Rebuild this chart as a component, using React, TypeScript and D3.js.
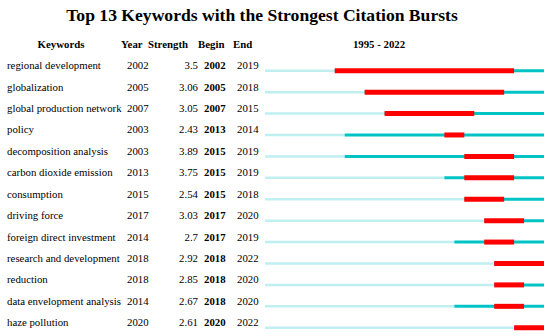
import { scaleBand, scaleLinear, range } from "d3";

const keywords = [
  "regional development",
  "globalization",
  "global production network",
  "policy",
  "decomposition analysis",
  "carbon dioxide emission",
  "consumption",
  "driving force",
  "foreign direct investment",
  "research and development",
  "reduction",
  "data envelopment analysis",
  "haze pollution",
];
const years = [2002, 2005, 2007, 2003, 2003, 2013, 2015, 2017, 2014, 2018, 2018, 2014, 2020];
const strengths = ["3.5", "3.06", "3.05", "2.43", "3.89", "3.75", "2.54", "3.03", "2.7", "2.92", "2.85", "2.67", "2.61"];
const begins = [2002, 2005, 2007, 2013, 2015, 2015, 2015, 2017, 2017, 2018, 2018, 2018, 2020];
const ends = [2019, 2018, 2015, 2014, 2019, 2019, 2018, 2020, 2019, 2022, 2020, 2020, 2022];

const startYear = 1995;
const endYear = 2022;

const W = 550;
const H = 336;
const font = "'Liberation Serif', 'Times New Roman', serif";
const fs = 10.8;

const App = () => {
  const x = scaleLinear().domain([startYear, endYear + 1]).range([265, 544]);
  const y = scaleBand<number>()
    .domain(range(keywords.length))
    .range([60, 60 + 21.42 * keywords.length]);

  return (
    <svg
      width={W}
      height={H}
      style={{ position: "absolute", left: 0, top: 0, background: "#fff" }}
      fontFamily={font}
    >
      <text x={262} y={21} textAnchor="middle" fontSize={17.6} fontWeight="bold">
        Top 13 Keywords with the Strongest Citation Bursts
      </text>
      <g fontSize={fs} fontWeight="bold">
        <text x={61} y={48} textAnchor="middle">Keywords</text>
        <text x={121} y={48}>Year</text>
        <text x={148} y={48}>Strength</text>
        <text x={198} y={48}>Begin</text>
        <text x={233} y={48}>End</text>
        <text x={379} y={48} textAnchor="middle">1995 - 2022</text>
      </g>
      {keywords.map((k, i) => {
        const cy = (y(i) ?? 0) + y.bandwidth() / 2;
        const ty = cy - 1.5;
        return (
          <g key={k} fontSize={fs}>
            <text x={7} y={ty}>{k}</text>
            <text x={127} y={ty}>{years[i]}</text>
            <text x={198} y={ty} textAnchor="end">{strengths[i]}</text>
            <text x={204} y={ty} fontWeight="bold">{begins[i]}</text>
            <text x={237} y={ty}>{ends[i]}</text>
            <line x1={x(startYear)} x2={x(years[i])} y1={cy} y2={cy} stroke="#bfeff0" strokeWidth={2.5} />
            <line x1={x(years[i])} x2={x(endYear + 1)} y1={cy} y2={cy} stroke="#00c4c4" strokeWidth={3} />
            <line x1={x(begins[i])} x2={x(ends[i] + 1)} y1={cy} y2={cy} stroke="#ff0000" strokeWidth={5} />
          </g>
        );
      })}
    </svg>
  );
};

export default App;
